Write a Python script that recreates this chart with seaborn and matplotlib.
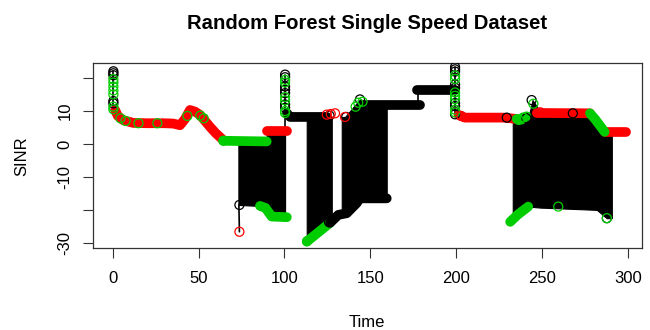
import matplotlib
matplotlib.use("Agg")
import matplotlib.pyplot as plt
import pandas as pd
import seaborn as sns

# thick coloured trails of overlapping points: segment id, class, time, SINR
trail_seg = [0]*15 + [1]*2 + [2]*2 + [3]*4 + [4]*3 + [5]*2 + [6]*6 + [7]*2 + [8]*2 \
    + [9]*4 + [10]*3 + [11]*3 + [12]*2 + [13]*3 + [14]*2
trail_cls = ['red']*15 + ['green']*2 + ['red']*2 + ['green']*4 + ['black']*3 + ['green']*2 \
    + ['black']*6 + ['black']*2 + ['black']*2 + ['red']*4 + ['green']*3 + ['green']*3 \
    + ['red']*2 + ['green']*3 + ['red']*2
trail_t = [1.4, 3.0, 6.2, 12, 20, 30, 35.3, 39.2, 42, 45, 48, 50.9, 56.7, 60, 64.4,
           64.4, 89.7,
           89.7, 101.4,
           85.8, 89, 92.6, 101.4,
           101.5, 103.3, 124.7,
           113, 126.6,
           126.6, 131.4, 136.3, 142, 144, 159.6,
           146, 179,
           177.5, 199.4,
           201.5, 205, 227.5, 235.3,
           235.3, 238, 241,
           231.5, 236, 242,
           247, 278,
           278, 281, 286.5,
           286.5, 299]
trail_y = [10.3, 8.5, 7.2, 6.4, 6.3, 6.3, 6.2, 5.7, 7.5, 10.3, 9.8, 8.8, 5.2, 3.3, 1.2,
           1.0, 0.8,
           4.1, 4.1,
           -18.7, -19.3, -21.9, -22.1,
           9.3, 8.2, 8.2,
           -29.5, -23.8,
           -23.8, -21.4, -20.9, -17.9, -16.4, -16.4,
           11.8, 11.8,
           16.3, 16.3,
           8.8, 8.0, 8.0, 7.6,
           7.6, 7.4, 8.4,
           -23.5, -21.3, -18.9,
           9.4, 9.3,
           9.3, 7.5, 3.7,
           3.7, 3.7]

# thin black connecting lines
link_seg = [0, 0, 1, 1, 2, 2, 3, 3, 4, 4]
link_t = [0.4, 0.4, 73.5, 73.8, 100.4, 100.4, 178, 178, 199.4, 199.4]
link_y = [22.0, 10.3, -18.4, -26.5, 20.8, -22.0, 11.8, 16.3, 23.3, 8.8]

# solid black areas where the series jumps back and forth
block_id = [0]*6 + [1]*3 + [2]*5 + [3]*10
block_t = [73.2, 86, 89.7, 89.7, 92.6, 100.4,
           113, 126.6, 127.6,
           133.4, 135.3, 144, 149, 159.6,
           233, 242, 243.5, 244.5, 249, 278, 282, 286.8, 287.8, 290.7]
block_hi = [0.7, 0.7, 0.7, 4.1, 4.1, 4.1,
            8.2, 8.2, 8.2,
            8.2, 8.2, 13.5, 11.8, 11.8,
            7.6, 8.0, 11, 13.3, 9.8, 9.3, 7.0, 3.7, 3.7, 3.7]
block_lo = [-18.4, -18.7, -19.6, -19.6, -21.9, -22.0,
            -29.5, -23.8, -23.5,
            -21.2, -20.9, -16.4, -16.4, -16.4,
            -23.0, -18.9, -19.0, -19.0, -19.2, -19.8, -19.9, -22.0, -22.4, -22.4]

# single open circles
circ_t = [0.4]*12 + [100.4]*13 + [199.4]*15 + [
    4.5, 7.5, 15, 26, 43.5, 51, 53, 64.5,
    73.8, 73.8,
    124.7, 127, 129.5, 126.3, 113.3, 126,
    135.3, 136, 141.5, 143, 144, 145.5, 143,
    203, 229.5, 236.5, 239, 241,
    244, 245, 249, 268, 259.5, 287.8, 287.8]
circ_y = [22.0, 21.4, 20.8, 13.0, 12.3, 19.6, 18.6, 17.4, 16.2, 15.0, 11.3, 10.5,
          21.0, 20.2, 17.4, 16.4, 15.4, 12.0, 11.0, 19.4, 18.6, 14.2, 13.2, 10.0, 9.4,
          23.3, 22.6, 21.9, 18.0, 17.0, 12.4, 11.5, 9.0, 20.7, 19.7, 15.6, 14.6, 13.6, 10.4, 9.6,
          7.8, 7.0, 6.3, 6.3, 8.5, 8.6, 7.8, 1.0,
          -26.5, -18.4,
          8.9, 9.1, 9.3, 8.6, -29.3, -23.6,
          8.2, 8.2, 11.3, 12.5, 13.5, 12.8, 10.5,
          8.5, 8.0, 7.3, 8.0, 7.8,
          13.3, 12.2, 9.6, 9.3, -18.9, -22.4, -22.4]
circ_cls = ['black']*5 + ['green']*7 + ['black']*7 + ['green']*6 + ['black']*8 + ['green']*7 + [
    'green']*8 + ['red', 'black'] + ['red']*3 + ['black', 'green', 'black'] + [
    'red', 'black', 'green', 'green', 'black', 'green', 'black'] + [
    'red', 'black', 'green', 'green', 'black'] + [
    'black', 'green', 'red', 'black', 'green', 'green', 'black']

x_ticks = [0, 50, 100, 150, 200, 250, 300]
y_ticks = [-30, -20, -10, 0, 10, 20]
y_tick_labels = ['-30', '', '-10', '0', '10', '']

palette = {'red': '#FF0000', 'green': '#00CD00', 'black': '#000000'}

sns.set_style('ticks')
plt.rcParams['font.family'] = ['Liberation Sans', 'DejaVu Sans']
plt.rcParams['text.color'] = 'black'
plt.rcParams['axes.labelcolor'] = 'black'

fig, ax = plt.subplots(figsize=(6.5, 3.3), dpi=100)
fig.subplots_adjust(left=0.1426, right=0.9875, bottom=0.2476, top=0.808)

blocks = pd.DataFrame({'id': block_id, 't': block_t, 'hi': block_hi, 'lo': block_lo})
for _, b in blocks.groupby('id'):
    ax.fill_between(b['t'], b['lo'], b['hi'], color='black', lw=0.8, zorder=1)

links = pd.DataFrame({'seg': link_seg, 't': link_t, 'y': link_y})
sns.lineplot(data=links, x='t', y='y', units='seg', estimator=None, sort=False,
             color='black', lw=1.2, ax=ax, zorder=2)

trails = pd.DataFrame({'seg': trail_seg, 'cls': trail_cls, 't': trail_t, 'y': trail_y})
sns.lineplot(data=trails, x='t', y='y', hue='cls', units='seg', estimator=None, sort=False,
             palette=palette, lw=7, solid_capstyle='round', legend=False, ax=ax, zorder=3)

circles = pd.DataFrame({'t': circ_t, 'y': circ_y, 'cls': circ_cls})
for cls, c in circles.groupby('cls'):
    sns.scatterplot(data=c, x='t', y='y', color=palette[cls], facecolors='none',
                    edgecolor=palette[cls], s=42, linewidth=0.9, ax=ax, zorder=4)

ax.set_xlim(-11.65, 308.2)
ax.set_ylim(-31.5, 24.4)
ax.set_xticks(x_ticks)
ax.set_yticks(y_ticks)
ax.set_yticklabels(y_tick_labels, rotation=90, va='center')
ax.tick_params(axis='both', length=7.5, width=0.8, labelsize=12, colors='#333333',
               labelcolor='black')
ax.tick_params(axis='x', pad=9)
ax.tick_params(axis='y', pad=7)
for s in ax.spines.values():
    s.set_linewidth(0.9)
    s.set_color('#333333')

ax.set_xlabel('Time', fontsize=12, labelpad=21)
ax.set_ylabel('SINR', fontsize=12, labelpad=20)
ax.set_title('Random Forest Single Speed Dataset', fontsize=14.6, fontweight='bold', pad=25)

plt.savefig('out.png', dpi=100)
